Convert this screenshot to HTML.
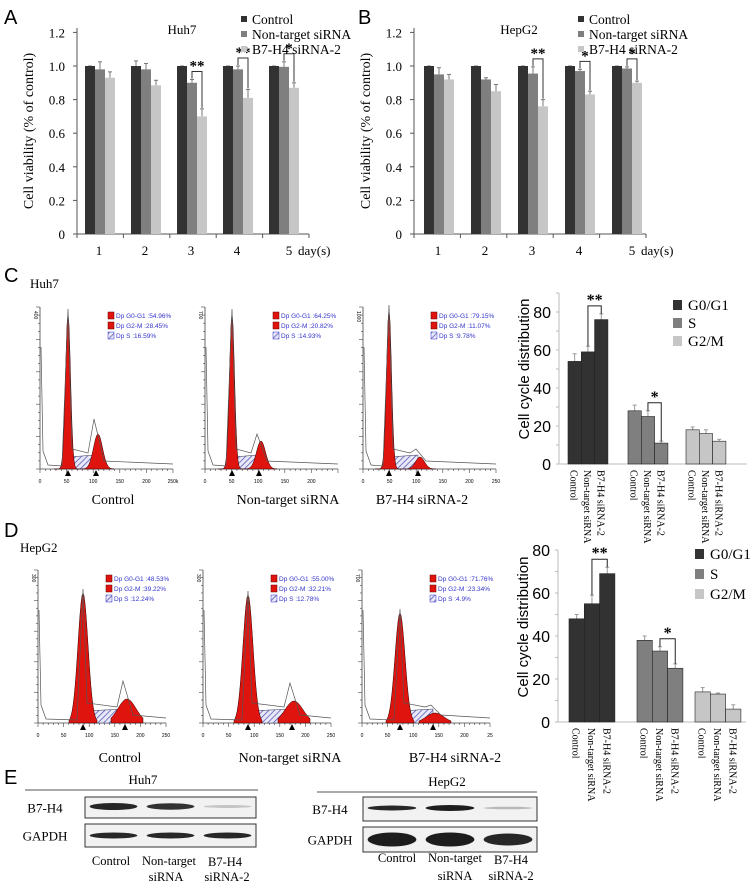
<!DOCTYPE html>
<html><head><meta charset="utf-8">
<style>
html,body{margin:0;padding:0;background:#fff;}
svg{display:block;font-family:"Liberation Serif",serif;}
.sans{font-family:"Liberation Sans",sans-serif;}
</style></head>
<body>
<svg id="fig" width="756" height="891" viewBox="0 0 756 891" xmlns="http://www.w3.org/2000/svg">
<defs>
<pattern id="hatch" width="4" height="4" patternUnits="userSpaceOnUse" patternTransform="rotate(45)">
<rect width="4" height="4" fill="#e8e8f8"/><line x1="0" y1="0" x2="0" y2="4" stroke="#4a4ab0" stroke-width="1.4"/>
</pattern>
</defs>
<g id="root"></g>
</svg>
<script>
// ---------- Panel A / B data ----------
const days = ['1','2','3','4','5'];
const huhControl = [1.0, 1.0, 1.0, 1.0, 1.0];
const huhNonTarget = [0.98, 0.98, 0.90, 0.98, 0.995];
const huhSiRNA = [0.93, 0.885, 0.70, 0.81, 0.87];
const huhControlErr = [0.0, 0.03, 0.0, 0.0, 0.0];
const huhNonTargetErr = [0.045, 0.035, 0.02, 0.02, 0.03];
const huhSiRNAErr = [0.035, 0.03, 0.045, 0.05, 0.03];
const hepControl = [1.0, 1.0, 1.0, 1.0, 1.0];
const hepNonTarget = [0.95, 0.92, 0.955, 0.97, 0.985];
const hepSiRNA = [0.92, 0.85, 0.76, 0.83, 0.90];
const hepControlErr = [0.0, 0.0, 0.0, 0.0, 0.0];
const hepNonTargetErr = [0.04, 0.01, 0.04, 0.01, 0.01];
const hepSiRNAErr = [0.03, 0.04, 0.04, 0.02, 0.01];
const viabTicks = ['0','0.2','0.4','0.6','0.8','1.0','1.2'];
const huhSig = ['', '', '**', '**', '*'];
const hepSig = ['', '', '**', '*', '*'];
// ---------- Cell cycle data ----------
const phases = ['G0/G1','S','G2/M'];
const groups = ['Control','Non-target siRNA','B7-H4 siRNA-2'];
const huhCycle = [[54, 59, 76],[28, 25, 11],[18, 16, 12]];
const huhCycleErr = [[4, 3, 3],[3, 3, 1],[1.5, 2, 1]];
const hepCycle = [[48, 55, 69],[38, 33, 25],[14, 13, 6]];
const hepCycleErr = [[2, 4, 3],[2, 2, 2],[2, 0.5, 2]];
const huhCycleTicks = ['0','20','40','60','80'];
const hepCycleTicks = ['0','20','40','60','80'];
const huhCycleSig = ['**','*',''];
const hepCycleSig = ['**','*',''];

const NS='http://www.w3.org/2000/svg';
const root=document.getElementById('root');
function el(tag, attrs, parent, text){
  const e=document.createElementNS(NS,tag);
  for(const k in attrs) e.setAttribute(k, attrs[k]);
  if(text!==undefined) e.textContent=text;
  (parent||root).appendChild(e);
  return e;
}
const COLORS=['#323232','#7f7f7f','#c6c6c6'];

// ---------- Viability charts ----------
function viability(opt){
  const g=el('g',{});
  
  
  const y=v=>234 - v*168;
  const gx=i=>opt.start + i*opt.step;
  const bw=10;
  const ax=el('line',{x1:opt.axis,y1:28,x2:opt.axis,y2:234,stroke:'#555','stroke-width':1},g);
   
  const xa=el('line',{x1:opt.axis,y1:234,x2:opt.axis+232,y2:234,stroke:'#555','stroke-width':1},g);
   
  viabTicks.forEach((t,i)=>{
    const v=parseFloat(t);
    el('line',{x1:opt.axis-4,y1:y(v),x2:opt.axis,y2:y(v),stroke:'#555'},g);
    const tx=el('text',{x:opt.axis-12,y:y(v)+5,'text-anchor':'end','font-size':13},g,t);
     
  });
  for(let i=0;i<=5;i++){ el('line',{x1:opt.axis+i*46.4,y1:234,x2:opt.axis+i*46.4,y2:238,stroke:'#555'},g); }
  const series=[opt.c,opt.n,opt.s], errs=[opt.ce,opt.ne,opt.se];
  days.forEach((d,i)=>{
    series.forEach((s,k)=>{
      const x=gx(i)+k*bw;
      el('line',{x1:x+bw/2,y1:y(s[i]),x2:x+bw/2,y2:y(s[i]+errs[k][i]),stroke:'#777','stroke-width':1},g);
      el('line',{x1:x+bw/2-2,y1:y(s[i]+errs[k][i]),x2:x+bw/2+2,y2:y(s[i]+errs[k][i]),stroke:'#777'},g);
      const b=el('rect',{x:x,y:y(s[i]),width:bw,height:234-y(s[i]),fill:COLORS[k]},g);
      
      
    });
    const t=el('text',{x:gx(i)+14+(i==4?6:0),y:255,'text-anchor':'middle','font-size':13},g,d);
     
    const sig=opt.sig[i];
    if(sig){
      const x1=gx(i)+bw*1.5, x2=gx(i)+bw*2.5;
      const top=y(Math.max(opt.n[i]+opt.ne[i], opt.s[i]+opt.se[i]))-8;
      el('path',{d:`M${x1} ${y(opt.n[i]+opt.ne[i])-1} V${top} H${x2} V${y(opt.s[i]+opt.se[i])-1}`,fill:'none',stroke:'#333','stroke-width':1},g);
      const st=el('text',{x:(x1+x2)/2,y:top-1,'text-anchor':'middle','font-size':15,'font-weight':'bold'},g,sig);
       
    }
  });
  const dl=el('text',{x:gx(4)+29,y:255,'text-anchor':'start','font-size':13},g,'day(s)');
   
  const yl=el('text',{transform:`translate(${opt.axis-44},131) rotate(-90)`,'text-anchor':'middle','font-size':14},g,'Cell viability (% of control)');
   
  const ti=el('text',{x:opt.axis+105,y:34,'text-anchor':'middle','font-size':13},g,opt.title);
   
  ['Control','Non-target siRNA','B7-H4 siRNA-2'].forEach((n,k)=>{
    const ly=14+k*15;
    el('rect',{x:opt.axis+164,y:ly+2,width:6,height:6,fill:COLORS[k]},g);
    const lt=el('text',{x:opt.axis+175,y:ly+10,'font-size':13.5},g,n);
     
  });
}
viability({name:'huh7-viability-chart',axis:77,start:85,step:46,title:'Huh7',c:huhControl,n:huhNonTarget,s:huhSiRNA,ce:huhControlErr,ne:huhNonTargetErr,se:huhSiRNAErr,sig:huhSig});
viability({name:'hepg2-viability-chart',axis:414,start:424,step:47,title:'HepG2',c:hepControl,n:hepNonTarget,s:hepSiRNA,ce:hepControlErr,ne:hepNonTargetErr,se:hepSiRNAErr,sig:hepSig});

// ---------- Cell cycle bar charts ----------
function cycle(opt){
  const g=el('g',{},root);
  
  
  const y=v=>opt.y0 - v*opt.k;
  el('line',{x1:opt.axis,y1:y(opt.top),x2:opt.axis,y2:opt.y0,stroke:'#bbb'},g);
  el('line',{x1:opt.axis,y1:opt.y0,x2:opt.axis+188,y2:opt.y0,stroke:'#bbb'},g);
  opt.ticks.forEach(t=>{
    const v=+t;
    el('line',{x1:opt.axis-3,y1:y(v),x2:opt.axis,y2:y(v),stroke:'#bbb'},g);
    if(v+10<=opt.top) el('line',{x1:opt.axis-3,y1:y(v+10),x2:opt.axis,y2:y(v+10),stroke:'#bbb'},g);
    const tx=el('text',{x:opt.axis-8,y:y(v)+6,'text-anchor':'end','font-size':16,'class':'sans'},g,t);
     
  });
  const yl=el('text',{transform:`translate(${opt.axis-30},${opt.y0-95}) rotate(-90)`,'text-anchor':'middle','font-size':15,'class':'sans'},g,'Cell cycle distribution');
   
  phases.forEach((p,pi)=>{
    groups.forEach((gr,gi)=>{
      const x=opt.starts[pi]+gi*opt.bw, v=opt.data[pi][gi], e=opt.err[pi][gi];
      el('line',{x1:x+opt.bw/2,y1:y(v),x2:x+opt.bw/2,y2:y(v+e),stroke:'#999'},g);
      el('line',{x1:x+opt.bw/2-2,y1:y(v+e),x2:x+opt.bw/2+2,y2:y(v+e),stroke:'#999'},g);
      const b=el('rect',{x:x,y:y(v),width:opt.bw,height:opt.y0-y(v),fill:COLORS[pi],stroke:'#222','stroke-width':0.6},g);
      
      
      const cl=el('text',{transform:`translate(${x+opt.bw/2-4},${opt.y0+6}) rotate(90)`,'font-size':10},g,gr);
       
    });
    const sig=opt.sig[pi];
    if(sig){
      const x1=opt.starts[pi]+opt.bw*1.5, x2=opt.starts[pi]+opt.bw*2.5;
      const top=Math.min(y(opt.data[pi][1]+opt.err[pi][1]), y(opt.data[pi][2]+opt.err[pi][2]))-8;
      el('path',{d:`M${x1} ${y(opt.data[pi][1]+opt.err[pi][1])} V${top} H${x2} V${y(opt.data[pi][2]+opt.err[pi][2])}`,fill:'none',stroke:'#222'},g);
      const st=el('text',{x:(x1+x2)/2,y:top-1,'text-anchor':'middle','font-size':16,'font-weight':'bold'},g,sig);
       
    }
    const ly=opt.legY+pi*opt.legStep;
    el('rect',{x:opt.legX,y:ly-9,width:9,height:10,fill:COLORS[pi]},g);
    const lt=el('text',{x:opt.legX+15,y:ly+1,'font-size':15},g,p);
     
  });
}
cycle({name:'huh7-cell-cycle-chart',axis:559,y0:464,k:1.9,top:90,ticks:huhCycleTicks,starts:[568,628,686],bw:13.3,data:huhCycle,err:huhCycleErr,sig:huhCycleSig,legX:673,legY:309,legStep:18});
cycle({name:'hepg2-cell-cycle-chart',axis:558,y0:722,k:2.15,top:80,ticks:hepCycleTicks,starts:[569,637,695],bw:15.3,data:hepCycle,err:hepCycleErr,sig:hepCycleSig,legX:695,legY:558,legStep:20});

// ---------- Flow histograms ----------
const huhHist = [
  {ax:40, g1:68, g2:96, g1h:156, g2h:35, outG2:50, max:'400', legend:['54.96%','28.45%','16.59%'], xt:['0','50','100','150','200','250k']},
  {ax:205, g1:232, g2:259, g1h:156, g2h:28, outG2:35, max:'700', legend:['64.25%','20.82%','14.93%'], xt:['0','50','100','150','200','']},
  {ax:363, g1:389, g2:418, g1h:160, g2h:12, outG2:20, max:'1000', legend:['79.15%','11.07%','9.78%'], xt:['0','50','100','150','200','250']}
];
const hepHist = [
  {ax:38, g1:83, g2:125, g1h:130, g2h:24, outG2:42, max:'300', legend:['48.53%','39.22%','12.24%'], xt:['0','50','100','150','200','250']},
  {ax:203, g1:248, g2:292, g1h:128, g2h:22, outG2:40, max:'300', legend:['55.00%','32.21%','12.78%'], xt:['0','50','100','150','200','250']},
  {ax:362, g1:400, g2:433, g1h:110, g2h:10, outG2:18, max:'700', legend:['71.76%','23.34%','4.9%'], xt:['0','50','100','150','200','25']}
];
function gauss(c,h,s,base,from,to){
  let d=`M${from} ${base}`;
  for(let x=from;x<=to;x+=1){ d+=` L${x} ${base - h*Math.exp(-((x-c)*(x-c))/(2*s*s))}`; }
  return d+` L${to} ${base} Z`;
}
function hist(h, base, top, width, name, sSigma){
  const g=el('g',{});
  
  
  el('line',{x1:h.ax,y1:top,x2:h.ax,y2:base,stroke:'#444','stroke-width':0.8},g);
  el('line',{x1:h.ax,y1:base,x2:h.ax+width,y2:base,stroke:'#444','stroke-width':0.8},g);
  for(let i=0;i<=25;i++){ el('line',{x1:h.ax+i*width/25,y1:base,x2:h.ax+i*width/25,y2:base+(i%5==0?4:2),stroke:'#444','stroke-width':0.6},g); }
  for(let i=0;i<=20;i++){ el('line',{x1:h.ax-(i%4==0?4:2),y1:base-i*(base-top)/20,x2:h.ax,y2:base-i*(base-top)/20,stroke:'#444','stroke-width':0.6},g); }
  h.xt.forEach((t,i)=>{ el('text',{x:h.ax+i*width/5,y:base+14,'text-anchor':'middle','font-size':5,'class':'sans'},g,t); });
  el('text',{transform:`translate(${h.ax-6},${top+4}) rotate(90)`,'font-size':5,'class':'sans'},g,h.max);
  el('path',{d:`M${h.g1} ${base} L${h.g1} ${base-12} L${h.g2} ${base-14} L${h.g2} ${base} Z`,fill:'url(#hatch)',stroke:'#335','stroke-width':0.5},g);
  el('path',{d:gauss(h.g1,h.g1h,sSigma,base,h.g1-14,h.g1+14),fill:'#e0140f',stroke:'#300','stroke-width':0.5},g);
  el('path',{d:gauss(h.g2+2,h.g2h,sSigma*1.8,base,h.g2-14,h.g2+18),fill:'#e0140f',stroke:'#300','stroke-width':0.5},g);
  let d=`M${h.ax+1} ${top+40} L${h.ax+3} ${base-18} L${h.ax+8} ${base-4} L${h.g1-6} ${base-3} L${h.g1} ${base-h.g1h-4} L${h.g1+4} ${base-20} L${h.g2-8} ${base-16} L${h.g2-2} ${base-h.outG2} L${h.g2+8} ${base-8} L${h.ax+width} ${base-5}`;
  el('path',{d:d,fill:'none',stroke:'#555','stroke-width':0.7},g);
  el('path',{d:`M${h.g1-3} ${base+7} l3 -6 l3 6 Z M${h.g2-3} ${base+7} l3 -6 l3 6 Z`,fill:'#000'},g);
  const lx=h.ax+68, ly=top+5;
  ['Dp G0-G1','Dp G2-M','Dp S'].forEach((n,i)=>{
    el('rect',{x:lx,y:ly+i*10,width:6,height:7,fill:i==2?'url(#hatch)':'#e0140f',stroke:i==2?'#33c':'#600','stroke-width':0.5},g);
    const t=el('text',{x:lx+8,y:ly+i*10+6,'font-size':6.5,fill:'#3333cc','class':'sans'},g,n+' :'+h.legend[i]);
     
  });
}
huhHist.forEach((h,i)=>hist(h,469,307,133,'huh7-histogram-'+(i+1),2.5));
hepHist.forEach((h,i)=>hist(h,723,570,128,'hepg2-histogram-'+(i+1),5));

// ---------- Static labels ----------
function label(x,y,t,size,name,extra){
  const a=Object.assign({x:x,y:y,'font-size':size},extra||{});
  const e=el('text',a,root,t);
  
  
}
label(4,24,'A',20,'panel-label-a',{'class':'sans'});
label(358,24,'B',20,'panel-label-b',{'class':'sans'});
label(4,282,'C',20,'panel-label-c',{'class':'sans'});
label(30,288,'Huh7',13,'panel-c-title');
label(4,537,'D',20,'panel-label-d',{'class':'sans'});
label(20,552,'HepG2',13,'panel-d-title');
label(4,784,'E',20,'panel-label-e',{'class':'sans'});
[['Control',113,504],['Non-target siRNA',288,504],['B7-H4 siRNA-2',422,504],['Control',120,762],['Non-target siRNA',290,762],['B7-H4 siRNA-2',455,762]].forEach(a=>{
  label(a[1],a[2],a[0],14,'histogram-caption',{'text-anchor':'middle'});
});

// ---------- Western blots ----------
function blot(o){
  const g=el('g',{});
  
  
  el('text',{x:o.tx,y:o.lineY-6,'text-anchor':'middle','font-size':13},g,o.title);
  el('line',{x1:o.lx1,y1:o.lineY,x2:o.lx2,y2:o.lineY,stroke:'#555','stroke-width':1},g);
  [['B7-H4',o.r1],['GAPDH',o.r2]].forEach((r,ri)=>{
    const [y1,y2]=r[1];
    el('rect',{x:o.bx1,y:y1,width:o.bx2-o.bx1,height:y2-y1,fill:'#f2f2f2',stroke:'#333','stroke-width':1},g);
    const lt=el('text',{x:o.labX,y:(y1+y2)/2+5,'text-anchor':'middle','font-size':13},g,r[0]);
     
    const lw=(o.bx2-o.bx1)/3;
    o.bands[ri].forEach((b,i)=>{
      el('ellipse',{cx:o.bx1+lw*i+lw/2,cy:(y1+y2)/2+ (ri==0?-1:0),rx:lw*0.42,ry:b[0],fill:'#111','fill-opacity':b[1]},g);
    });
  });
  o.lanes.forEach(l=>{
    el('text',{x:l[1],y:l[2],'text-anchor':'middle','font-size':12.5},g,l[0]);
  });
}
blot({name:'huh7-western-blot',title:'Huh7',tx:143,lineY:790,lx1:25,lx2:258,bx1:85,bx2:256,r1:[797,818],r2:[824,847],labX:45,
  bands:[[[3.5,0.9],[3.2,0.85],[1.5,0.2]],[[3,0.9],[3,0.9],[3,0.9]]],
  lanes:[['Control',111,865],['Non-target',169,865],['siRNA',166,881],['B7-H4',225,866],['siRNA-2',227,881]]});
blot({name:'hepg2-western-blot',title:'HepG2',tx:447,lineY:792,lx1:317,lx2:537,bx1:363,bx2:537,r1:[797,821],r2:[827,852],labX:330,
  bands:[[[2.5,0.9],[3,0.95],[1.3,0.25]],[[7,0.95],[7,0.95],[6,0.9]]],
  lanes:[['Control',397,862],['Non-target',455,862],['siRNA',455,880],['B7-H4',511,864],['siRNA-2',511,880]]});
</script>
</body></html>
